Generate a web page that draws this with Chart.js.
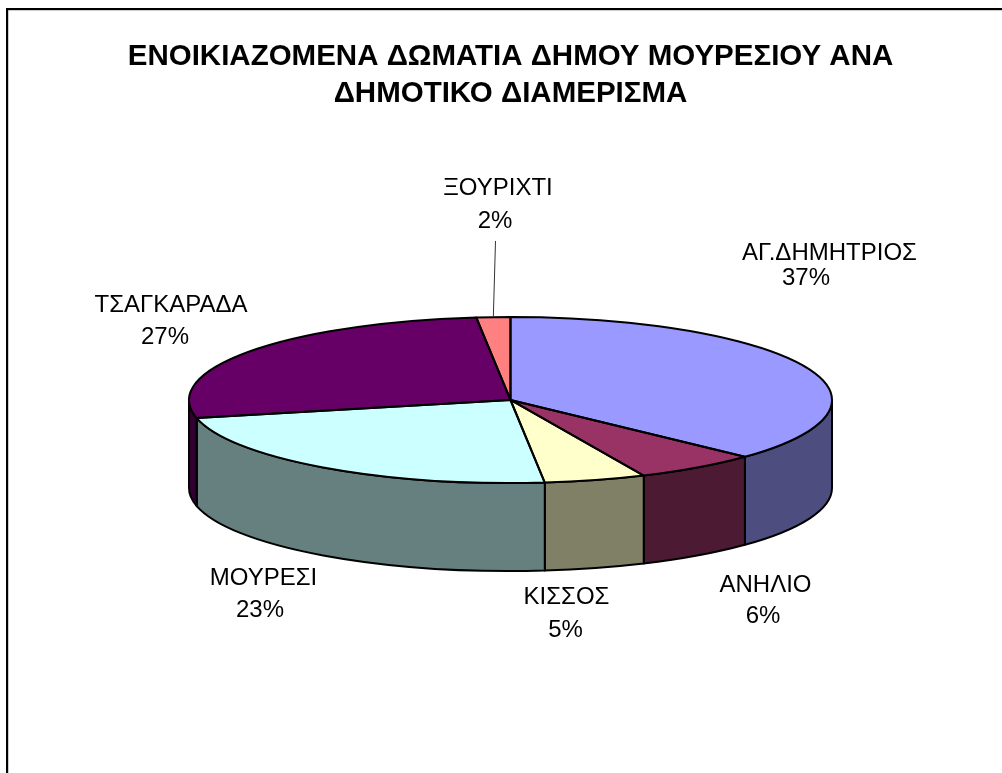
<!DOCTYPE html>
<html><head><meta charset="utf-8">
<script src="https://cdn.jsdelivr.net/npm/chart.js@4/dist/chart.umd.min.js"></script>
<style>html,body{margin:0;padding:0;background:#fff}canvas{display:block}</style>
</head><body><canvas id="c" width="1002" height="773"></canvas>
<script>
const categories = ["ΑΓ.ΔΗΜΗΤΡΙΟΣ","ΑΝΗΛΙΟ","ΚΙΣΣΟΣ","ΜΟΥΡΕΣΙ","ΤΣΑΓΚΑΡΑΔΑ","ΞΟΥΡΙΧΤΙ"];
const shares = [37.0,6.2,5.1,23.2,26.8,1.7];
const percentLabels = ["37%","6%","5%","23%","27%","2%"];
const topColors = ["#9999FF","#993366","#FFFFCC","#CCFFFF","#660066","#FF8080"];
const wallColors = ["#4D4D80","#4D1A33","#808066","#668080","#330033","#804040"];
const titleLines = ["ΕΝΟΙΚΙΑΖΟΜΕΝΑ ΔΩΜΑΤΙΑ ΔΗΜΟΥ ΜΟΥΡΕΣΙΟΥ ΑΝΑ","ΔΗΜΟΤΙΚΟ ΔΙΑΜΕΡΙΣΜΑ"];

const SQUASH = 83/321.5, DEPTH = 88;
const labelPlaces = [
  [[829.5,253.5],[806,278]],
  [[765.5,585],[763,616]],
  [[566.5,597.5],[565.5,630.5]],
  [[263.5,578],[260,610]],
  [[171,305],[165,337]],
  [[498,188.5],[495,221.5]]
];

const pie3d = {
  id:'pie3d',
  beforeDraw(chart){
    const c=chart.ctx;
    c.save();
    c.fillStyle='#fff';c.fillRect(0,0,chart.width,chart.height);
    c.fillStyle='#000';
    c.fillRect(6,8,chart.width-6,2.2);
    c.fillRect(6,8,2.2,chart.height-8);
    c.restore();
  },
  beforeDatasetsDraw(chart){
    const c=chart.ctx, arcs=chart.getDatasetMeta(0).data;
    const {x:cx,y:cy,outerRadius:r}=arcs[0], ry=r*SQUASH;
    c.save();
    c.lineWidth=2;c.strokeStyle='#000';c.lineJoin='round';
    arcs.forEach((a,i)=>{
      const s=Math.max(a.startAngle,0), e=Math.min(a.endAngle,Math.PI);
      if(e<=s) return;
      c.beginPath();
      c.ellipse(cx,cy,r,ry,0,s,e);
      c.ellipse(cx,cy+DEPTH,r,ry,0,e,s,true);
      c.closePath();
      c.fillStyle=wallColors[i];c.fill();c.stroke();
    });
    c.restore();
    c.save();
    c.translate(cx,cy);c.scale(1,SQUASH);c.translate(-cx,-cy);
  },
  afterDatasetsDraw(chart){
    const c=chart.ctx, arcs=chart.getDatasetMeta(0).data;
    c.restore();
    const {x:cx,y:cy,outerRadius:r}=arcs[0], ry=r*SQUASH;
    c.save();
    c.lineWidth=2;c.strokeStyle='#000';c.lineJoin='round';
    arcs.forEach(a=>{
      c.beginPath();
      c.moveTo(cx,cy);
      c.ellipse(cx,cy,r,ry,0,a.startAngle,a.endAngle);
      c.closePath();
      c.stroke();
    });
    // leader of the smallest slice
    const last=arcs[arcs.length-1], mid=(last.startAngle+last.endAngle)/2;
    c.lineWidth=1;c.strokeStyle='#333';
    c.beginPath();c.moveTo(495.5,241);
    c.lineTo(cx+r*Math.cos(mid),cy+ry*Math.sin(mid));c.stroke();
    // labels
    c.fillStyle='#000';c.font='24px "Liberation Sans"';
    c.textAlign='center';c.textBaseline='middle';
    categories.forEach((n,i)=>{
      const [a,b]=labelPlaces[i];
      c.fillText(n,a[0],a[1]);
      c.fillText(percentLabels[i],b[0],b[1]);
    });
    c.restore();
  }
};

new Chart(document.getElementById('c'),{
  type:'pie',
  data:{labels:categories,datasets:[{data:shares,backgroundColor:topColors,borderWidth:0,radius:321.5,clip:false}]},
  plugins:[pie3d],
  options:{
    responsive:false,animation:false,
    layout:{padding:{left:100,right:81,top:0,bottom:85}},
    plugins:{
      legend:{display:false},tooltip:{enabled:false},
      title:{display:true,text:titleLines,color:'#000',
        font:{family:'"Liberation Sans"',size:29.5,weight:'bold',lineHeight:1.254},
        padding:{top:38,bottom:0}}
    }
  }
});
</script></body></html>
